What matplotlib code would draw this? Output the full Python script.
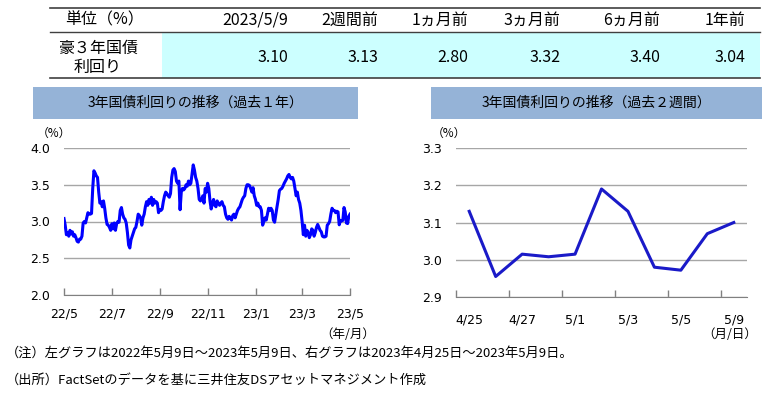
import numpy as np
import pandas as pd
import matplotlib
matplotlib.use("Agg")
import matplotlib.pyplot as plt
from matplotlib.patches import Rectangle
from matplotlib.lines import Line2D

plt.rcParams['font.family'] = ['Noto Sans CJK JP', 'DejaVu Sans']

# summary table
table_cols = ['2023/5/9', '2週間前', '1ヵ月前', '3ヵ月前', '6ヵ月前', '1年前']
table_vals = [3.10, 3.13, 2.80, 3.32, 3.40, 3.04]

# 3y yield, past one year (daily)
yield_1y = [
    3.04, 2.95, 2.82, 2.85, 2.80, 2.88, 2.83, 2.86, 2.80, 2.82,
    2.78, 2.73, 2.72, 2.76, 2.76, 2.80, 2.98, 3.00, 2.98, 3.05,
    3.12, 3.10, 3.10, 3.11, 3.45, 3.69,
    3.66, 3.62, 3.60, 3.40, 3.25, 3.27, 3.20, 3.28, 3.18, 3.05,
    2.96, 2.95, 2.92, 2.88, 2.97, 2.90, 2.98, 2.88, 2.97, 3.00,
    2.99, 3.15, 3.19, 3.10, 3.05, 3.03, 2.98, 2.85, 2.68, 2.64,
    2.75, 2.80, 2.85, 2.90, 2.92, 3.00, 3.10, 3.08, 3.05, 2.95,
    3.05, 3.10, 3.20, 3.27, 3.22, 3.30, 3.25, 3.33, 3.22, 3.30,
    3.25, 3.27, 3.25, 3.12, 3.16, 3.15, 3.17, 3.27, 3.35, 3.40,
    3.38, 3.35, 3.33, 3.38, 3.60, 3.70, 3.72,
    3.68, 3.55, 3.52, 3.55, 3.16,
    3.40, 3.45, 3.43, 3.45, 3.50, 3.48, 3.55, 3.50, 3.52, 3.65, 3.77,
    3.70, 3.60, 3.55, 3.45, 3.30, 3.28, 3.30, 3.35, 3.25, 3.45,
    3.40, 3.52, 3.45, 3.28, 3.17, 3.25, 3.30, 3.22, 3.20, 3.28,
    3.25, 3.22, 3.25, 3.27, 3.22, 3.20, 3.10, 3.05, 3.03, 3.07,
    3.05, 3.02, 3.08, 3.10, 3.05, 3.10, 3.15, 3.18, 3.20, 3.25,
    3.30, 3.33, 3.35, 3.45, 3.50, 3.50, 3.49, 3.45, 3.40, 3.46,
    3.35, 3.30, 3.22, 3.25, 3.20, 3.20, 3.15, 2.95,
    3.00, 3.05, 3.02, 3.10, 3.18, 3.15, 3.18, 3.15, 3.02, 2.99,
    3.10, 3.20, 3.30, 3.42, 3.44, 3.45, 3.48, 3.52, 3.55, 3.58,
    3.62, 3.64,
    3.60, 3.58, 3.60, 3.55, 3.45, 3.35, 3.40, 3.30, 3.25, 3.15,
    3.00, 2.82,
    2.95, 2.80, 2.88, 2.85, 2.78, 2.82, 2.90, 2.88, 2.80, 2.85,
    2.92, 2.96, 2.92, 2.88, 2.86, 2.80, 2.79, 2.79, 2.80, 2.95,
    2.97, 3.00, 3.10, 3.18, 3.15, 3.15, 3.12, 3.14,
    3.13, 2.955, 3.015, 3.008, 3.015, 3.19, 3.13, 2.98, 2.972, 3.07, 3.10,
]
start_1y, end_1y = '2022-05-09', '2023-05-09'
ticks_1y = ['2022-05-09', '2022-07-09', '2022-09-09', '2022-11-09',
            '2023-01-09', '2023-03-09', '2023-05-09']
ticklabels_1y = ['22/5', '22/7', '22/9', '22/11', '23/1', '23/3', '23/5']

# 3y yield, past two weeks
days_2w = ['4/25', '4/26', '4/27', '4/28', '5/1', '5/2', '5/3', '5/4', '5/5', '5/8', '5/9']
yield_2w = [3.13, 2.955, 3.015, 3.008, 3.015, 3.19, 3.13, 2.98, 2.972, 3.07, 3.10]

W, H = 772, 394
fig = plt.figure(figsize=(W / 100, H / 100), dpi=100)

def fx(x):
    return x / W

def fy(y):
    return 1 - y / H

# ---- table ----
fig.add_artist(Rectangle((fx(162), fy(78)), fx(760) - fx(162), fy(32) - fy(78),
                         transform=fig.transFigure, color='#CCFFFF', lw=0))
for y, lw in [(8, 1.2), (32, 1.0), (78, 1.2)]:
    fig.add_artist(Line2D([fx(50), fx(760)], [fy(y), fy(y)], transform=fig.transFigure,
                          color='#404040', lw=lw))
fig.text(fx(65), fy(20), '単位（%）', fontsize=11.5, va='center', ha='left')
fig.text(fx(98), fy(48), '豪３年国債', fontsize=11.5, va='center', ha='center')
fig.text(fx(98), fy(67), '利回り', fontsize=11.5, va='center', ha='center')
col_right = [288, 378, 468, 560, 660, 745]
for xr, c, v in zip(col_right, table_cols, table_vals):
    fig.text(fx(xr), fy(20), c, fontsize=11.5, va='center', ha='right')
    fig.text(fx(xr), fy(57), f'{v:.2f}', fontsize=11.5, va='center', ha='right')

# ---- title boxes ----
for x0, x1, title in [(33, 358, '3年国債利回りの推移（過去１年）'),
                      (431, 762, '3年国債利回りの推移（過去２週間）')]:
    fig.add_artist(Rectangle((fx(x0), fy(119)), fx(x1) - fx(x0), fy(87) - fy(119),
                             transform=fig.transFigure, color='#95B3D7', lw=0))
    fig.text(fx((x0 + x1) / 2), fy(103), title, fontsize=10, va='center', ha='center')

def style_axis(ax):
    ax.grid(axis='y', color='#A6A6A6', lw=1)
    ax.set_axisbelow(True)
    for s in ['top', 'right', 'left']:
        ax.spines[s].set_visible(False)
    ax.spines['bottom'].set_color('#808080')
    ax.tick_params(axis='y', length=0, pad=10, labelsize=9)
    ax.tick_params(axis='x', which='both', labelsize=9, colors='#808080', labelcolor='black')
    for lab in ax.get_xticklabels(which='both') + ax.get_yticklabels():
        lab.set_family('DejaVu Sans')

# ---- left chart ----
ax1 = fig.add_axes([fx(64), fy(295), fx(350) - fx(64), fy(148) - fy(295)])
dates_1y = pd.date_range(start_1y, end_1y, periods=len(yield_1y))
ax1.plot(dates_1y, yield_1y, color='#0000FF', lw=2.2)
ax1.set_ylim(2.0, 4.0)
ax1.set_yticks([2.0, 2.5, 3.0, 3.5, 4.0])
ax1.set_yticklabels([f'{v:.1f}' for v in [2.0, 2.5, 3.0, 3.5, 4.0]])
ax1.set_xlim(pd.Timestamp(start_1y), pd.Timestamp(end_1y))
ax1.set_xticks(pd.to_datetime(ticks_1y))
ax1.set_xticklabels(ticklabels_1y)
style_axis(ax1)
ax1.tick_params(axis='x', direction='in', length=5, width=1, pad=9)
fig.text(fx(37), fy(133), '（%）', fontsize=8.5, va='center', ha='left')
fig.text(fx(375), fy(335), '（年/月）', fontsize=9, va='center', ha='right')

# ---- right chart ----
ax2 = fig.add_axes([fx(456), fy(297), fx(747) - fx(456), fy(148) - fy(297)])
x2 = np.arange(len(days_2w))
ax2.plot(x2, yield_2w, color='#1A1AC8', lw=2.2)
ax2.set_ylim(2.9, 3.3)
ax2.set_yticks([2.9, 3.0, 3.1, 3.2, 3.3])
ax2.set_yticklabels([f'{v:.1f}' for v in [2.9, 3.0, 3.1, 3.2, 3.3]])
ax2.set_xlim(-0.5, len(days_2w) - 0.5)
ax2.set_xticks(np.arange(-0.5, len(days_2w) - 1, 2))
ax2.set_xticklabels([])
ax2.set_xticks(x2[::2], minor=True)
ax2.set_xticklabels(days_2w[::2], minor=True)
style_axis(ax2)
ax2.tick_params(axis='x', which='major', direction='in', length=5, width=1)
ax2.tick_params(axis='x', which='minor', length=0, pad=12)
fig.text(fx(432), fy(133), '（%）', fontsize=8.5, va='center', ha='left')
fig.text(fx(757), fy(335), '（月/日）', fontsize=9, va='center', ha='right')

# ---- notes ----
fig.text(fx(6), fy(353), '（注）左グラフは2022年5月9日～2023年5月9日、右グラフは2023年4月25日～2023年5月9日。',
         fontsize=9.5, va='center', ha='left')
fig.text(fx(6), fy(380), '（出所）FactSetのデータを基に三井住友DSアセットマネジメント作成',
         fontsize=9.5, va='center', ha='left')

fig.savefig('out.png', dpi=100)
